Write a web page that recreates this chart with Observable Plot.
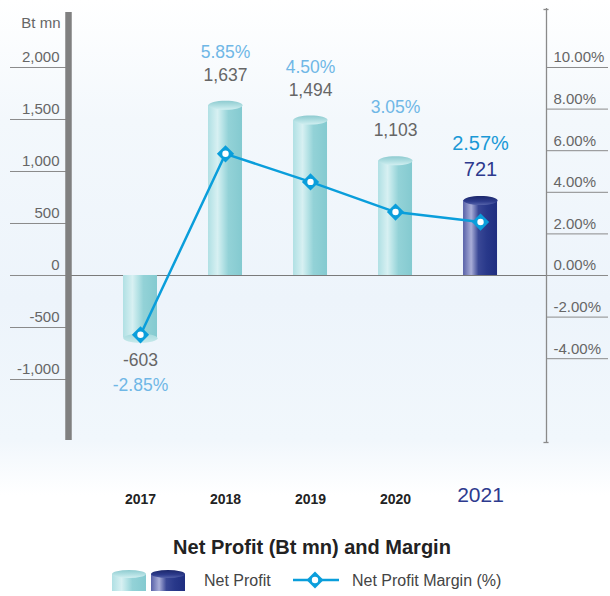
<!DOCTYPE html>
<html>
<head>
<meta charset="utf-8">
<script src="https://cdn.jsdelivr.net/npm/d3@7"></script>
<script src="https://cdn.jsdelivr.net/npm/@observablehq/plot@0.6"></script>
<style>
  html, body { margin: 0; padding: 0; background: #fff; }
  #wrap {
    position: relative; width: 610px; height: 596px; overflow: hidden;
    font-family: "Liberation Sans", Arial, Helvetica, sans-serif;
    background: linear-gradient(to bottom, #ffffff 0px, #f3f8fc 120px, #edf4fb 300px, #f1f7fc 440px, #ffffff 495px);
  }
  #title {
    position: absolute; left: 0; top: 535px; width: 624px; text-align: center;
    font-size: 20px; font-weight: bold; color: #222; line-height: 24px;
  }
  #legend {
    position: absolute; left: 0; top: 570px; height: 22px; width: 610px;
    font-size: 16px; color: #444;
  }
  #legend .item { position: absolute; top: 0; height: 22px; line-height: 22px; white-space: nowrap; }
  #legend svg { position: absolute; overflow: visible; }
</style>
</head>
<body>
<div id="wrap">
  <div id="chart"></div>
  <div id="title">Net Profit (Bt mn) and Margin</div>
  <div id="legend">
    <svg style="left:112px; top:0px" width="34" height="21">
      <rect x="0" y="4" width="34" height="17" fill="url(#cylLight)"></rect>
      <ellipse cx="17" cy="4" rx="17" ry="4" fill="url(#capLight)"></ellipse>
    </svg>
    <svg style="left:151px; top:0px" width="34" height="21">
      <rect x="0" y="4" width="34" height="17" fill="url(#cylDark)"></rect>
      <ellipse cx="17" cy="4" rx="17" ry="4" fill="url(#capDark)"></ellipse>
    </svg>
    <div class="item" style="left:204px">Net Profit</div>
    <svg style="left:293px; top:0px" width="46" height="22">
      <line x1="0" y1="10" x2="46" y2="10" stroke="#0a9edb" stroke-width="2.5"></line>
      <rect x="-6" y="-6" width="12" height="12" fill="#0a9edb" transform="translate(22,10) rotate(45)"></rect>
      <circle cx="22" cy="10" r="3.2" fill="#fff"></circle>
    </svg>
    <div class="item" style="left:352px">Net Profit Margin (%)</div>
  </div>
</div>
<script>
// ---- data ----
const years = [2017, 2018, 2019, 2020, 2021];
const netProfit = [-603, 1637, 1494, 1103, 721];          // Bt mn
const profitLabels = ["-603", "1,637", "1,494", "1,103", "721"];
const marginPct = [-2.85, 5.85, 4.50, 3.05, 2.57];        // %
const marginLabels = ["-2.85%", "5.85%", "4.50%", "3.05%", "2.57%"];
const leftTicks = [2000, 1500, 1000, 500, 0, -500, -1000];
const leftTickLabels = ["2,000", "1,500", "1,000", "500", "0", "-500", "-1,000"];
const rightTicks = [10, 8, 6, 4, 2, 0, -2, -4];
const rightTickLabels = ["10.00%", "8.00%", "6.00%", "4.00%", "2.00%", "0.00%", "-2.00%", "-4.00%"];
const latestYear = 2021;
const PCT = 200; // Bt mn per 1 % on the shared vertical scale (10% aligns with 2,000)

const data = years.map((year, i) => ({
  year, value: netProfit[i], vlab: profitLabels[i],
  pct: marginPct[i], pctY: marginPct[i] * PCT, plab: marginLabels[i],
  latest: year === latestYear
}));
const normal = data.filter(d => !d.latest);
const latest = data.filter(d => d.latest);
const pos = data.filter(d => d.value >= 0);
const neg = data.filter(d => d.value < 0);

const xDomain = [2016.153, 2021.776];
const yDomain = [-1586.5, 2548];
const pxPerUnit = 430 / (yDomain[1] - yDomain[0]);
const halfW = 0.2;

const ellipse = (rx, ry) => ({
  draw(ctx) {
    const k = 0.5523;
    ctx.moveTo(-rx, 0);
    ctx.bezierCurveTo(-rx, -ry * k, -rx * k, -ry, 0, -ry);
    ctx.bezierCurveTo(rx * k, -ry, rx, -ry * k, rx, 0);
    ctx.bezierCurveTo(rx, ry * k, rx * k, ry, 0, ry);
    ctx.bezierCurveTo(-rx * k, ry, -rx, ry * k, -rx, 0);
    ctx.closePath();
  }
});
const cap = ellipse(17, 4.5);

const defs = () => {
  const svg = d3.create("svg:defs");
  const lin = (id, stops, vertical) => {
    const g = svg.append("linearGradient").attr("id", id)
      .attr("x1", 0).attr("y1", 0).attr("x2", vertical ? 0 : 1).attr("y2", vertical ? 1 : 0);
    stops.forEach(([o, c]) => g.append("stop").attr("offset", o).attr("stop-color", c));
  };
  lin("cylLight", [[0, "#b0e0e4"], [0.28, "#d7f0f2"], [0.42, "#b9e4e7"], [0.6, "#93d2d7"], [1, "#84cad0"]]);
  lin("capLight", [[0, "#8ecbd0"], [0.6, "#b5e1e4"], [1, "#d2eff1"]], true);
  lin("capLightBottom", [[0, "#a6dadd"], [1, "#c6e9eb"]], true);
  lin("cylDark", [[0, "#5861a8"], [0.24, "#a9aed8"], [0.45, "#3a4896"], [0.7, "#28388a"], [1, "#1f2e80"]]);
  lin("capDark", [[0, "#1b276b"], [0.6, "#2e3c8c"], [1, "#5563aa"]], true);
  return svg.node();
};

const chart = Plot.plot({
  width: 610,
  height: 520,
  marginLeft: 68,
  marginRight: 64,
  marginTop: 10,
  marginBottom: 80,
  style: { fontFamily: "Liberation Sans, Arial, Helvetica, sans-serif", background: "transparent", color: "#666", overflow: "visible" },
  x: { domain: xDomain, axis: null },
  y: { domain: yDomain, label: null },
  marks: [
    defs,
    // left axis: tick lines and labels
    Plot.axisY(leftTicks, { anchor: "left", tickSize: 58, tickFormat: () => "", stroke: "#8a8a8a", label: null }),
    Plot.axisY(leftTicks, { anchor: "left", tickSize: 0, tickPadding: 9, dy: -10, fontSize: 15,
      tickFormat: d => leftTickLabels[leftTicks.indexOf(d)], fill: "#666", label: null }),
    // right axis
    Plot.axisY(rightTicks.map(p => p * PCT), { anchor: "right", tickSize: 61, tickFormat: () => "", stroke: "#8a8a8a", label: null }),
    Plot.axisY(rightTicks.map(p => p * PCT), { anchor: "right", tickSize: 0, tickPadding: 7, dy: -10, fontSize: 15,
      tickFormat: d => rightTickLabels[rightTicks.indexOf(d / PCT)], fill: "#666", label: null }),
    Plot.ruleX([xDomain[1]], { y1: yDomain[1] + 2 / pxPerUnit, y2: yDomain[0] - 2 / pxPerUnit, stroke: "#8a8a8a", strokeWidth: 1.3 }),
    Plot.ruleY([yDomain[1] + 1 / pxPerUnit, yDomain[0] - 2 / pxPerUnit], { x1: xDomain[1] - 0.03, x2: xDomain[1] + 0.03, stroke: "#8a8a8a", strokeWidth: 1.3 }),
    // zero line
    Plot.ruleY([0], { stroke: "#7a7a7a", strokeWidth: 1.2 }),
    // Bt mn
    Plot.text(["Bt mn"], { frameAnchor: "top-left", dx: -8, dy: 7, textAnchor: "end", fontSize: 15, fill: "#666" }),
    // cylinders
    Plot.rect(normal, { x1: d => d.year - halfW, x2: d => d.year + halfW, y1: 0, y2: "value", fill: "url(#cylLight)" }),
    Plot.rect(latest, { x1: d => d.year - halfW, x2: d => d.year + halfW, y1: 0, y2: "value", fill: "url(#cylDark)" }),
    Plot.dot(neg, { x: "year", y: "value", symbol: cap, r: 1, fill: "url(#capLightBottom)" }),
    Plot.dot(pos.filter(d => !d.latest), { x: "year", y: "value", symbol: cap, r: 1, fill: "url(#capLight)" }),
    Plot.dot(latest, { x: "year", y: "value", symbol: cap, r: 1, fill: "url(#capDark)" }),
    // left thick axis bar
    Plot.ruleX([xDomain[0]], { y1: yDomain[1] - 2 / pxPerUnit, y2: yDomain[0], stroke: "#808080", strokeWidth: 6.5 }),
    // margin line
    Plot.line(data, { x: "year", y: "pctY", stroke: "#0a9edb", strokeWidth: 2.5 }),
    Plot.dot(data, { x: "year", y: "pctY", symbol: "square", r: 6.9, rotate: 45, fill: "#0a9edb" }),
    Plot.dot(data, { x: "year", y: "pctY", r: 3.2, fill: "#ffffff" }),
    // value labels (positive)
    Plot.text(pos.filter(d => !d.latest), { x: "year", y: "value", text: "vlab", dy: -30, fontSize: 17.5, fill: "#666" }),
    Plot.text(pos.filter(d => !d.latest), { x: "year", y: "value", text: "plab", dy: -53, fontSize: 17.5, fill: "#6fb7e6" }),
    Plot.text(latest, { x: "year", y: "value", text: "vlab", dy: -31, fontSize: 20, fill: "#2d3a8e" }),
    Plot.text(latest, { x: "year", y: "value", text: "plab", dy: -57, fontSize: 20, fill: "#1a98d6" }),
    // value labels (negative)
    Plot.text(neg, { x: "year", y: "value", text: "vlab", dy: 22, fontSize: 17.5, fill: "#666" }),
    Plot.text(neg, { x: "year", y: "value", text: "plab", dy: 47, fontSize: 17.5, fill: "#6fb7e6" }),
    // year labels
    Plot.text(normal, { x: "year", text: d => String(d.year), frameAnchor: "bottom", dy: 63, fontSize: 14, fontWeight: "bold", fill: "#222" }),
    Plot.text(latest, { x: "year", text: d => String(d.year), frameAnchor: "bottom", dy: 61, fontSize: 21, fill: "#2d3a8e" })
  ]
});
document.getElementById("chart").appendChild(chart);
</script>
</body>
</html>
